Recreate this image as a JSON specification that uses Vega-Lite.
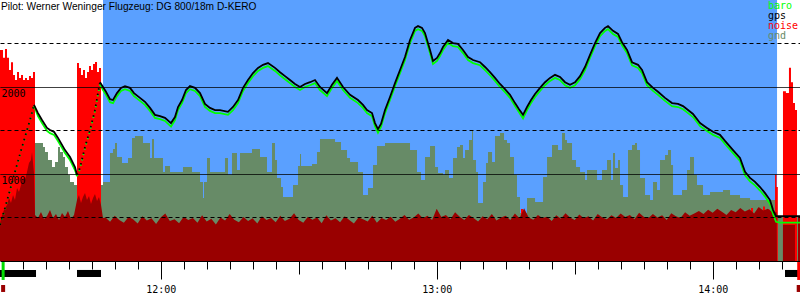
{
"$schema": "https://vega.github.io/schema/vega-lite/v6.json",
"width": 800, "height": 300, "autosize": "none", "padding": 0, "background": "white",
"config": {"view": {"stroke": null}},
"title": {"text": "Pilot: Werner Weninger Flugzeug: DG 800/18m D-KERO", "anchor": "start", "frame": "group", "orient": "top", "offset": 0, "dy": 12, "dx": 1, "font": "Liberation Sans", "fontSize": 10.2, "fontWeight": "normal", "color": "black"},
"datasets": {
"flight": [{"t": 707.46, "t2": 853.99}],
"engine": [{"t": 685.07, "t2": 692.9}, {"t": 701.81, "t2": 707.03}, {"t": 855.72, "t2": 858.98}],
"markers": [{"t": 685.75, "kind": "takeoff"}, {"t": 858.7, "kind": "landing"}],
"climb": [
{"t":685.07,"gps":415,"baro":415,"s":1},{"t":686.16,"gps":610,"baro":600,"s":1},{"t":687.24,"gps":815,"baro":805,"s":1},{"t":688.33,"gps":1025,"baro":1015,"s":1},{"t":689.42,"gps":1230,"baro":1220,"s":1},{"t":690.5,"gps":1425,"baro":1415,"s":1},{"t":691.59,"gps":1620,"baro":1610,"s":1},{"t":692.46,"gps":1795,"baro":1785,"s":1},
{"t":701.81,"gps":990,"baro":975,"s":2},{"t":702.46,"gps":1070,"baro":1060,"s":2},{"t":703.55,"gps":1310,"baro":1300,"s":2},{"t":704.64,"gps":1505,"baro":1495,"s":2},{"t":705.72,"gps":1735,"baro":1725,"s":2},{"t":706.37,"gps":1930,"baro":1915,"s":2},{"t":706.81,"gps":2055,"baro":2030,"s":2}
],
"track": [
{"t":692.46,"gps":1795,"baro":1785,"s":1},{"t":693.33,"gps":1700,"baro":1665,"s":1},{"t":694.2,"gps":1620,"baro":1585,"s":1},{"t":695.29,"gps":1530,"baro":1495,"s":1},{"t":695.94,"gps":1505,"baro":1470,"s":1},{"t":696.81,"gps":1485,"baro":1450,"s":1},{"t":697.68,"gps":1415,"baro":1380,"s":1},{"t":698.55,"gps":1335,"baro":1300,"s":1},{"t":699.2,"gps":1275,"baro":1240,"s":1},{"t":700.29,"gps":1195,"baro":1160,"s":1},{"t":701.37,"gps":1080,"baro":1045,"s":1},{"t":701.81,"gps":990,"baro":975,"s":1},
{"t":706.81,"gps":2055,"baro":2030,"s":2},{"t":707.46,"gps":2000,"baro":1965,"s":2},{"t":708.11,"gps":1945,"baro":1910,"s":2},{"t":708.98,"gps":1860,"baro":1825,"s":2},{"t":709.63,"gps":1850,"baro":1815,"s":2},{"t":710.5,"gps":1930,"baro":1895,"s":2},{"t":711.37,"gps":1990,"baro":1955,"s":2},{"t":712.24,"gps":2010,"baro":1975,"s":2},{"t":713.33,"gps":1990,"baro":1955,"s":2},{"t":714.2,"gps":1930,"baro":1895,"s":2},{"t":715.5,"gps":1875,"baro":1840,"s":2},{"t":716.59,"gps":1830,"baro":1795,"s":2},{"t":717.68,"gps":1760,"baro":1725,"s":2},{"t":718.76,"gps":1680,"baro":1645,"s":2},{"t":719.85,"gps":1665,"baro":1630,"s":2},{"t":720.94,"gps":1645,"baro":1610,"s":2},{"t":722.24,"gps":1585,"baro":1545,"s":2},{"t":723.11,"gps":1655,"baro":1620,"s":2},{"t":723.77,"gps":1770,"baro":1735,"s":2},{"t":724.64,"gps":1850,"baro":1815,"s":2},{"t":725.5,"gps":1965,"baro":1930,"s":2},{"t":726.37,"gps":2010,"baro":1975,"s":2},{"t":727.46,"gps":1990,"baro":1955,"s":2},{"t":728.55,"gps":1930,"baro":1895,"s":2},{"t":729.63,"gps":1805,"baro":1770,"s":2},{"t":730.72,"gps":1760,"baro":1725,"s":2},{"t":731.81,"gps":1735,"baro":1700,"s":2},{"t":732.89,"gps":1735,"baro":1700,"s":2},{"t":734.63,"gps":1715,"baro":1680,"s":2},{"t":735.72,"gps":1770,"baro":1735,"s":2},{"t":736.81,"gps":1850,"baro":1815,"s":2},{"t":737.9,"gps":1990,"baro":1955,"s":2},{"t":738.98,"gps":2080,"baro":2045,"s":2},{"t":740.07,"gps":2160,"baro":2125,"s":2},{"t":741.16,"gps":2220,"baro":2185,"s":2},{"t":742.24,"gps":2255,"baro":2220,"s":2},{"t":743.33,"gps":2275,"baro":2240,"s":2},{"t":744.85,"gps":2220,"baro":2185,"s":2},{"t":745.94,"gps":2170,"baro":2135,"s":2},{"t":747.03,"gps":2125,"baro":2090,"s":2},{"t":748.11,"gps":2080,"baro":2045,"s":2},{"t":749.2,"gps":2035,"baro":2000,"s":2},{"t":750.29,"gps":2000,"baro":1965,"s":2},{"t":751.37,"gps":2035,"baro":2000,"s":2},{"t":752.46,"gps":2055,"baro":2020,"s":2},{"t":753.55,"gps":2080,"baro":2045,"s":2},{"t":754.63,"gps":2000,"baro":1965,"s":2},{"t":756.16,"gps":1930,"baro":1895,"s":2},{"t":757.24,"gps":2025,"baro":1990,"s":2},{"t":758.33,"gps":2105,"baro":2070,"s":2},{"t":759.64,"gps":2000,"baro":1965,"s":2},{"t":761.16,"gps":1910,"baro":1875,"s":2},{"t":762.9,"gps":1850,"baro":1815,"s":2},{"t":763.98,"gps":1795,"baro":1760,"s":2},{"t":764.85,"gps":1735,"baro":1700,"s":2},{"t":765.94,"gps":1700,"baro":1665,"s":2},{"t":766.59,"gps":1585,"baro":1550,"s":2},{"t":767.24,"gps":1515,"baro":1475,"s":2},{"t":767.89,"gps":1575,"baro":1540,"s":2},{"t":768.77,"gps":1735,"baro":1700,"s":2},{"t":769.85,"gps":1885,"baro":1850,"s":2},{"t":770.94,"gps":2045,"baro":2010,"s":2},{"t":772.03,"gps":2195,"baro":2160,"s":2},{"t":773.11,"gps":2345,"baro":2310,"s":2},{"t":774.2,"gps":2540,"baro":2505,"s":2},{"t":775.29,"gps":2680,"baro":2645,"s":2},{"t":775.94,"gps":2700,"baro":2665,"s":2},{"t":776.81,"gps":2680,"baro":2645,"s":2},{"t":777.46,"gps":2620,"baro":2585,"s":2},{"t":778.55,"gps":2425,"baro":2390,"s":2},{"t":779.2,"gps":2300,"baro":2265,"s":2},{"t":780.07,"gps":2335,"baro":2300,"s":2},{"t":780.72,"gps":2390,"baro":2355,"s":2},{"t":781.37,"gps":2460,"baro":2425,"s":2},{"t":782.46,"gps":2540,"baro":2505,"s":2},{"t":783.55,"gps":2505,"baro":2470,"s":2},{"t":784.63,"gps":2495,"baro":2460,"s":2},{"t":785.72,"gps":2425,"baro":2390,"s":2},{"t":786.81,"gps":2345,"baro":2310,"s":2},{"t":787.9,"gps":2310,"baro":2275,"s":2},{"t":789.42,"gps":2285,"baro":2250,"s":2},{"t":790.51,"gps":2230,"baro":2195,"s":2},{"t":791.59,"gps":2170,"baro":2135,"s":2},{"t":792.68,"gps":2105,"baro":2070,"s":2},{"t":793.77,"gps":2035,"baro":2000,"s":2},{"t":794.85,"gps":1975,"baro":1940,"s":2},{"t":795.94,"gps":1910,"baro":1875,"s":2},{"t":797.03,"gps":1815,"baro":1780,"s":2},{"t":797.9,"gps":1745,"baro":1710,"s":2},{"t":798.77,"gps":1680,"baro":1640,"s":2},{"t":799.64,"gps":1770,"baro":1735,"s":2},{"t":800.51,"gps":1850,"baro":1815,"s":2},{"t":801.38,"gps":1920,"baro":1885,"s":2},{"t":802.46,"gps":1990,"baro":1955,"s":2},{"t":803.55,"gps":2055,"baro":2020,"s":2},{"t":804.64,"gps":2105,"baro":2070,"s":2},{"t":805.72,"gps":2140,"baro":2105,"s":2},{"t":806.81,"gps":2115,"baro":2080,"s":2},{"t":807.9,"gps":2055,"baro":2020,"s":2},{"t":808.98,"gps":2025,"baro":1990,"s":2},{"t":810.07,"gps":2055,"baro":2020,"s":2},{"t":811.16,"gps":2125,"baro":2090,"s":2},{"t":812.24,"gps":2230,"baro":2195,"s":2},{"t":813.33,"gps":2370,"baro":2335,"s":2},{"t":814.42,"gps":2505,"baro":2470,"s":2},{"t":815.51,"gps":2620,"baro":2585,"s":2},{"t":816.59,"gps":2680,"baro":2645,"s":2},{"t":817.24,"gps":2700,"baro":2665,"s":2},{"t":818.33,"gps":2645,"baro":2610,"s":2},{"t":819.42,"gps":2610,"baro":2575,"s":2},{"t":820.29,"gps":2515,"baro":2480,"s":2},{"t":821.38,"gps":2425,"baro":2390,"s":2},{"t":822.46,"gps":2285,"baro":2250,"s":2},{"t":823.77,"gps":2255,"baro":2220,"s":2},{"t":824.64,"gps":2195,"baro":2160,"s":2},{"t":825.72,"gps":2055,"baro":2020,"s":2},{"t":827.03,"gps":1990,"baro":1955,"s":2},{"t":828.11,"gps":1945,"baro":1910,"s":2},{"t":829.64,"gps":1875,"baro":1840,"s":2},{"t":831.16,"gps":1815,"baro":1780,"s":2},{"t":832.46,"gps":1805,"baro":1770,"s":2},{"t":833.55,"gps":1780,"baro":1745,"s":2},{"t":834.64,"gps":1735,"baro":1700,"s":2},{"t":835.72,"gps":1690,"baro":1655,"s":2},{"t":837.25,"gps":1585,"baro":1550,"s":2},{"t":838.77,"gps":1530,"baro":1495,"s":2},{"t":840.07,"gps":1485,"baro":1450,"s":2},{"t":841.59,"gps":1450,"baro":1415,"s":2},{"t":842.68,"gps":1380,"baro":1345,"s":2},{"t":844.42,"gps":1275,"baro":1240,"s":2},{"t":845.94,"gps":1185,"baro":1150,"s":2},{"t":847.03,"gps":1025,"baro":985,"s":2},{"t":848.12,"gps":955,"baro":915,"s":2},{"t":849.2,"gps":910,"baro":870,"s":2},{"t":850.29,"gps":850,"baro":810,"s":2},{"t":851.38,"gps":780,"baro":740,"s":2},{"t":852.46,"gps":700,"baro":655,"s":2},{"t":853.12,"gps":585,"baro":540,"s":2},{"t":853.77,"gps":515,"baro":450,"s":2},{"t":854.64,"gps":515,"baro":440,"s":2},{"t":856.81,"gps":515,"baro":440,"s":2},{"t":858.98,"gps":515,"baro":440,"s":2}
],
"gnd": [
{"t":685.07,"v":900},{"t":692.68,"v":1356},{"t":694.42,"v":1310},{"t":694.85,"v":1253},{"t":695.5,"v":1161},{"t":696.37,"v":1081},{"t":697.03,"v":1138},{"t":697.68,"v":1310},{"t":698.11,"v":1253},{"t":698.77,"v":1195},{"t":699.2,"v":1081},{"t":699.85,"v":989},{"t":700.29,"v":908},{"t":701.16,"v":874},{"t":707.46,"v":908},{"t":708.98,"v":1241},{"t":709.63,"v":1287},{"t":710.07,"v":1356},{"t":710.5,"v":1195},{"t":711.59,"v":1126},{"t":712.9,"v":1184},{"t":713.77,"v":1414},{"t":714.42,"v":1437},{"t":716.16,"v":1356},{"t":717.68,"v":1184},{"t":718.11,"v":1402},{"t":718.55,"v":1184},{"t":720.5,"v":1023},{"t":720.94,"v":1092},{"t":722.03,"v":1023},{"t":724.85,"v":1081},{"t":726.81,"v":1023},{"t":728.55,"v":908},{"t":729.2,"v":724},{"t":729.42,"v":908},{"t":730.07,"v":1184},{"t":730.72,"v":1023},{"t":733.98,"v":1184},{"t":734.63,"v":989},{"t":735.5,"v":1241},{"t":736.59,"v":1046},{"t":737.24,"v":1241},{"t":739.85,"v":1287},{"t":741.59,"v":1195},{"t":743.11,"v":1023},{"t":744.2,"v":1356},{"t":744.85,"v":1161},{"t":745.29,"v":954},{"t":746.16,"v":851},{"t":746.59,"v":736},{"t":748.77,"v":874},{"t":749.85,"v":1092},{"t":750.29,"v":1230},{"t":750.51,"v":1092},{"t":752.9,"v":1115},{"t":753.98,"v":1253},{"t":754.63,"v":1402},{"t":757.9,"v":1368},{"t":759.2,"v":1276},{"t":760.51,"v":1184},{"t":761.16,"v":1138},{"t":762.9,"v":1023},{"t":763.98,"v":759},{"t":765.07,"v":839},{"t":766.16,"v":1103},{"t":767.03,"v":1322},{"t":768.77,"v":1356},{"t":774.2,"v":1276},{"t":775.72,"v":1023},{"t":776.59,"v":931},{"t":777.46,"v":1195},{"t":778.55,"v":1322},{"t":779.64,"v":1081},{"t":780.29,"v":1012},{"t":781.37,"v":989},{"t":781.81,"v":1046},{"t":782.68,"v":954},{"t":783.55,"v":1184},{"t":784.42,"v":1310},{"t":785.07,"v":1333},{"t":785.72,"v":1184},{"t":786.16,"v":1276},{"t":787.03,"v":1391},{"t":787.68,"v":1506},{"t":787.9,"v":1161},{"t":788.55,"v":1023},{"t":788.98,"v":667},{"t":790.07,"v":908},{"t":790.72,"v":1126},{"t":791.16,"v":1253},{"t":792.03,"v":1138},{"t":792.68,"v":1437},{"t":793.77,"v":1471},{"t":794.64,"v":1391},{"t":795.29,"v":1356},{"t":795.94,"v":1195},{"t":796.81,"v":989},{"t":797.46,"v":736},{"t":798.11,"v":552},{"t":799.64,"v":724},{"t":801.38,"v":678},{"t":803.12,"v":966},{"t":803.99,"v":1195},{"t":805.07,"v":1333},{"t":806.38,"v":1276},{"t":807.25,"v":1471},{"t":807.9,"v":1391},{"t":808.33,"v":1356},{"t":809.42,"v":1161},{"t":810.29,"v":1081},{"t":811.16,"v":1023},{"t":812.24,"v":931},{"t":812.68,"v":1046},{"t":814.86,"v":931},{"t":815.94,"v":1046},{"t":817.03,"v":1161},{"t":817.9,"v":931},{"t":818.33,"v":1241},{"t":818.77,"v":1069},{"t":819.42,"v":1161},{"t":819.85,"v":874},{"t":820.51,"v":736},{"t":821.59,"v":1276},{"t":822.46,"v":1333},{"t":823.11,"v":1356},{"t":823.55,"v":1276},{"t":824.2,"v":954},{"t":825.29,"v":759},{"t":826.38,"v":701},{"t":827.03,"v":908},{"t":827.9,"v":816},{"t":828.55,"v":1161},{"t":829.64,"v":1218},{"t":830.29,"v":1276},{"t":830.94,"v":1103},{"t":831.38,"v":759},{"t":833.33,"v":816},{"t":834.42,"v":1046},{"t":835.07,"v":1195},{"t":835.94,"v":989},{"t":836.59,"v":874},{"t":837.9,"v":759},{"t":839.42,"v":793},{"t":842.25,"v":816},{"t":843.77,"v":759},{"t":845.94,"v":724},{"t":848.12,"v":701},{"t":853.99,"v":517},{"t":858.98,"v":517}
],
"enl": [
{"t":685.07,"v":2425},{"t":685.72,"v":2335},{"t":686.16,"v":2437},{"t":686.59,"v":2335},{"t":687.03,"v":2195},{"t":687.46,"v":2285},{"t":687.9,"v":2138},{"t":688.33,"v":2080},{"t":688.77,"v":2172},{"t":689.2,"v":2103},{"t":689.64,"v":2138},{"t":690.07,"v":2080},{"t":690.5,"v":2103},{"t":690.94,"v":2080},{"t":691.37,"v":2126},{"t":691.81,"v":2103},{"t":692.24,"v":2172},{"t":692.68,"v":0},{"t":701.81,"v":2276},{"t":702.24,"v":2218},{"t":702.68,"v":2138},{"t":703.11,"v":2195},{"t":703.55,"v":2103},{"t":703.98,"v":2172},{"t":704.42,"v":2241},{"t":704.85,"v":2195},{"t":705.29,"v":2264},{"t":705.72,"v":2287},{"t":706.16,"v":2172},{"t":706.59,"v":2218},{"t":707.03,"v":0},{"t":798.33,"v":598},{"t":798.77,"v":0},{"t":848.33,"v":610},{"t":848.77,"v":0},{"t":849.64,"v":600},{"t":850.29,"v":0},{"t":850.94,"v":625},{"t":851.38,"v":0},{"t":852.03,"v":590},{"t":852.46,"v":0},{"t":853.55,"v":990},{"t":853.88,"v":850},{"t":854.16,"v":0},{"t":855.28,"v":1950},{"t":855.92,"v":1930},{"t":856.58,"v":2220},{"t":857.02,"v":2055},{"t":857.46,"v":1815},{"t":857.89,"v":1735},{"t":858.33,"v":0},{"t":858.98,"v":0}
],
"noise": [
{"t":685.07,"v":437},{"t":685.5,"v":529},{"t":685.94,"v":586},{"t":686.59,"v":644},{"t":687.03,"v":724},{"t":687.46,"v":667},{"t":687.9,"v":759},{"t":688.33,"v":701},{"t":688.77,"v":839},{"t":689.2,"v":793},{"t":689.64,"v":874},{"t":690.07,"v":954},{"t":690.5,"v":931},{"t":690.94,"v":1023},{"t":691.37,"v":1126},{"t":691.81,"v":1161},{"t":692.03,"v":1253},{"t":692.46,"v":1012},{"t":692.68,"v":529},{"t":693.33,"v":494},{"t":693.98,"v":563},{"t":694.64,"v":483},{"t":695.29,"v":517},{"t":695.94,"v":586},{"t":696.59,"v":494},{"t":697.24,"v":540},{"t":697.9,"v":471},{"t":698.55,"v":552},{"t":699.2,"v":506},{"t":699.85,"v":575},{"t":700.5,"v":483},{"t":701.16,"v":529},{"t":701.81,"v":701},{"t":702.24,"v":759},{"t":702.68,"v":667},{"t":703.11,"v":736},{"t":703.55,"v":782},{"t":703.98,"v":701},{"t":704.42,"v":747},{"t":704.85,"v":655},{"t":705.29,"v":724},{"t":705.72,"v":770},{"t":706.16,"v":690},{"t":706.59,"v":736},{"t":707.03,"v":644},{"t":707.46,"v":494},
{"t":708,"v":500},{"t":709,"v":450},{"t":710,"v":520},{"t":711,"v":470},{"t":712,"v":440},{"t":713,"v":505},{"t":714,"v":480},{"t":715,"v":430},{"t":716,"v":515},{"t":717,"v":465},{"t":718,"v":490},{"t":719,"v":425},{"t":720,"v":500},{"t":721,"v":545},{"t":722,"v":460},{"t":723,"v":480},{"t":724,"v":435},{"t":725,"v":510},{"t":726,"v":470},{"t":727,"v":495},{"t":728,"v":440},{"t":729,"v":525},{"t":730,"v":455},{"t":731,"v":485},{"t":732,"v":420},{"t":733,"v":500},{"t":734,"v":465},{"t":735,"v":540},{"t":736,"v":475},{"t":737,"v":445},{"t":738,"v":505},{"t":739,"v":460},{"t":740,"v":490},{"t":741,"v":430},{"t":742,"v":515},{"t":743,"v":470},{"t":744,"v":495},{"t":745,"v":445},{"t":746,"v":520},{"t":747,"v":460},{"t":748,"v":485},{"t":749,"v":550},{"t":750,"v":470},{"t":751,"v":440},{"t":752,"v":510},{"t":753,"v":475},{"t":754,"v":500},{"t":755,"v":435},{"t":756,"v":525},{"t":757,"v":465},{"t":758,"v":490},{"t":759,"v":445},{"t":760,"v":515},{"t":761,"v":470},{"t":762,"v":430},{"t":763,"v":500},{"t":764,"v":480},{"t":765,"v":455},{"t":766,"v":520},{"t":767,"v":440},{"t":768,"v":495},{"t":769,"v":470},{"t":770,"v":510},{"t":771,"v":450},{"t":772,"v":485},{"t":773,"v":530},{"t":774,"v":475},{"t":775,"v":500},{"t":776,"v":545},{"t":777,"v":490},{"t":778,"v":520},{"t":779,"v":470},{"t":780,"v":600},{"t":781,"v":505},{"t":782,"v":530},{"t":783,"v":480},{"t":784,"v":560},{"t":785,"v":510},{"t":786,"v":470},{"t":787,"v":530},{"t":788,"v":495},{"t":789,"v":455},{"t":790,"v":515},{"t":791,"v":480},{"t":792,"v":540},{"t":793,"v":465},{"t":794,"v":500},{"t":795,"v":520},{"t":796,"v":470},{"t":797,"v":545},{"t":798,"v":490},{"t":799,"v":605},{"t":800,"v":500},{"t":801,"v":475},{"t":802,"v":530},{"t":803,"v":495},{"t":804,"v":510},{"t":805,"v":460},{"t":806,"v":525},{"t":807,"v":485},{"t":808,"v":550},{"t":809,"v":500},{"t":810,"v":470},{"t":811,"v":535},{"t":812,"v":490},{"t":813,"v":515},{"t":814,"v":465},{"t":815,"v":540},{"t":816,"v":500},{"t":817,"v":480},{"t":818,"v":525},{"t":819,"v":495},{"t":820,"v":545},{"t":821,"v":505},{"t":822,"v":530},{"t":823,"v":480},{"t":824,"v":555},{"t":825,"v":510},{"t":826,"v":490},{"t":827,"v":540},{"t":828,"v":500},{"t":829,"v":525},{"t":830,"v":470},{"t":831,"v":550},{"t":832,"v":515},{"t":833,"v":495},{"t":834,"v":560},{"t":835,"v":520},{"t":836,"v":545},{"t":837,"v":575},{"t":838,"v":540},{"t":839,"v":590},{"t":840,"v":555},{"t":841,"v":600},{"t":842,"v":565},{"t":843,"v":530},{"t":844,"v":585},{"t":845,"v":560},{"t":846,"v":610},{"t":847,"v":570},{"t":848,"v":595},{"t":849,"v":545},{"t":850,"v":620},{"t":851,"v":580},{"t":852,"v":600},{"t":853,"v":560},{"t":853.9,"v":560},{"t":853.99,"v":0},{"t":855.27,"v":0},{"t":855.28,"v":414},{"t":857.88,"v":414},{"t":857.89,"v":0},{"t":858.54,"v":0},{"t":858.55,"v":517},{"t":858.98,"v":517}
]
},
"encoding": {
"x": {"field": "t", "type": "quantitative", "title": null, "scale": {"domain": [685.07, 858.98], "nice": false, "zero": false},
 "axis": {"orient": "bottom", "offset": -39, "values": [690,695,700,705,710,715,720,725,730,735,740,745,750,755,760,765,770,775,780,785,790,795,800,805,810,815,820,825,830,835,840,845,850,855], "grid": false, "domain": true, "domainColor": "black", "ticks": true, "tickColor": "black", "tickWidth": 1, "tickSize": {"condition": [{"test": "datum.value % 60 === 0", "value": 18}, {"test": "datum.value === 750 || datum.value === 810", "value": 13}], "value": 8}, "labelExpr": "datum.value % 60 === 0 ? floor(datum.value / 60) + ':00' : ''", "labelFont": "DejaVu Sans Mono", "labelFontSize": 10, "labelColor": "black", "labelPadding": 5, "labelBaseline": "top", "labelAngle": 0, "labelFlush": false, "labelOverlap": false, "zindex": 0}}
},
"layer": [
{"data": {"name": "flight"}, "mark": {"type": "rect", "color": "#5aa0ff"},
 "encoding": {"x2": {"field": "t2"}, "y": {"datum": 3000, "type": "quantitative", "title": null, "scale": {"domain": [-448.3, 3000], "nice": false, "zero": false}}, "y2": {"datum": 0}}},
{"data": {"name": "gnd"}, "mark": {"type": "area", "interpolate": "step-after"},
 "encoding": {
  "y": {"field": "v", "type": "quantitative", "title": null, "scale": {"domain": [-448.3, 3000], "nice": false, "zero": false},
   "axis": {"orient": "left", "values": [500,1000,1500,2000,2500], "grid": true, "gridColor": "black", "gridOpacity": 1, "gridWidth": 1, "gridDash": {"condition": {"test": "datum.value % 1000 === 0", "value": [1, 0]}, "value": [4, 3]}, "domain": false, "ticks": false, "tickSize": 0, "format": "d", "labelExpr": "datum.value % 1000 === 0 ? datum.label : ''", "labelAlign": "left", "labelBaseline": "top", "labelPadding": -1, "labelOffset": 2, "labelFont": "DejaVu Sans Mono", "labelFontSize": 10, "labelColor": "black", "labelFlush": false, "labelOverlap": false, "zindex": 1}},
  "color": {"datum": "gnd", "type": "nominal", "scale": {"domain": ["baro","gps","noise","gnd"], "range": ["#00ff00","#000000","#ff0000","#678b67"]}, "legend": {"title": null, "orient": "top-right", "offset": 1, "padding": 0, "symbolOpacity": 0, "symbolSize": 0, "symbolStrokeWidth": 0, "labelOffset": 0, "rowPadding": 0, "labelFont": "DejaVu Sans Mono", "labelFontSize": 10, "encode": {"labels": {"update": {"fill": {"scale": "color", "field": "value"}}}}}}}},
{"data": {"name": "enl"}, "mark": {"type": "area", "interpolate": "step-after"},
 "encoding": {"y": {"field": "v", "type": "quantitative", "title": null, "scale": {"domain": [-448.3, 3000], "nice": false, "zero": false}},
  "color": {"datum": "noise", "type": "nominal", "scale": {"domain": ["baro","gps","noise","gnd"], "range": ["#00ff00","#000000","#ff0000","#678b67"]}, "legend": {"title": null, "orient": "top-right", "offset": 1, "padding": 0, "symbolOpacity": 0, "symbolSize": 0, "symbolStrokeWidth": 0, "labelOffset": 0, "rowPadding": 0, "labelFont": "DejaVu Sans Mono", "labelFontSize": 10, "encode": {"labels": {"update": {"fill": {"scale": "color", "field": "value"}}}}}}}},
{"data": {"name": "noise"}, "mark": {"type": "area", "color": "#990000"},
 "encoding": {"y": {"field": "v", "type": "quantitative", "title": null, "scale": {"domain": [-448.3, 3000], "nice": false, "zero": false}}}},
{"data": {"name": "climb"}, "transform": [{"fold": ["baro", "gps"], "as": ["series", "v"]}],
 "mark": {"type": "line", "strokeWidth": 1.8, "strokeDash": [1.5, 4]},
 "encoding": {"y": {"field": "v", "type": "quantitative", "title": null, "scale": {"domain": [-448.3, 3000], "nice": false, "zero": false}},
  "detail": {"field": "s", "type": "nominal"},
  "color": {"field": "series", "type": "nominal", "scale": {"domain": ["baro","gps","noise","gnd"], "range": ["#00ff00","#000000","#ff0000","#678b67"]}, "legend": {"title": null, "orient": "top-right", "offset": 1, "padding": 0, "symbolOpacity": 0, "symbolSize": 0, "symbolStrokeWidth": 0, "labelOffset": 0, "rowPadding": 0, "labelFont": "DejaVu Sans Mono", "labelFontSize": 10, "encode": {"labels": {"update": {"fill": {"scale": "color", "field": "value"}}}}}}}},
{"data": {"name": "track"}, "transform": [{"fold": ["baro", "gps"], "as": ["series", "v"]}],
 "mark": {"type": "line", "strokeWidth": 1.8},
 "encoding": {"y": {"field": "v", "type": "quantitative", "title": null, "scale": {"domain": [-448.3, 3000], "nice": false, "zero": false}},
  "detail": {"field": "s", "type": "nominal"},
  "color": {"field": "series", "type": "nominal", "scale": {"domain": ["baro","gps","noise","gnd"], "range": ["#00ff00","#000000","#ff0000","#678b67"]}, "legend": {"title": null, "orient": "top-right", "offset": 1, "padding": 0, "symbolOpacity": 0, "symbolSize": 0, "symbolStrokeWidth": 0, "labelOffset": 0, "rowPadding": 0, "labelFont": "DejaVu Sans Mono", "labelFontSize": 10, "encode": {"labels": {"update": {"fill": {"scale": "color", "field": "value"}}}}}}}},
{"data": {"name": "engine"}, "mark": {"type": "rect", "color": "black"},
 "encoding": {"x2": {"field": "t2"}, "y": {"datum": -103, "type": "quantitative", "title": null}, "y2": {"datum": -184}}},
{"data": {"name": "markers"}, "mark": {"type": "rule", "strokeWidth": 3},
 "encoding": {"y": {"datum": -12, "type": "quantitative", "title": null}, "y2": {"datum": -218}, "stroke": {"field": "kind", "type": "nominal", "scale": {"domain": ["takeoff", "landing"], "range": ["#00dd00", "#ff0000"]}, "legend": null}}},
{"data": {"name": "markers"}, "mark": {"type": "rule", "strokeWidth": 4, "color": "#990000"},
 "encoding": {"y": {"datum": -276, "type": "quantitative", "title": null}, "y2": {"datum": -356}}}
]
}
